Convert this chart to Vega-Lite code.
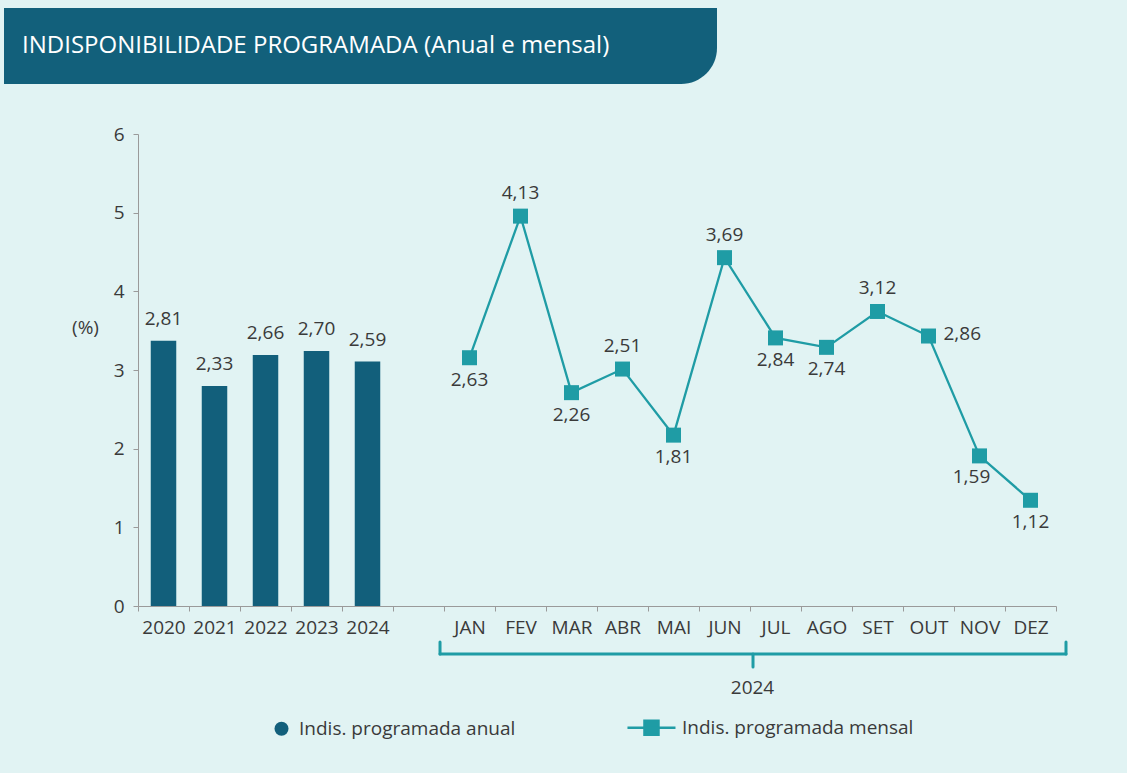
{
  "$schema": "https://vega.github.io/schema/vega-lite/v6.json",
  "background": "#e1f3f3",
  "padding": {"left": 4, "top": 8, "right": 59, "bottom": 33},
  "spacing": 41,
  "config": {
    "view": {"stroke": null},
    "font": "Open Sans",
    "locale": {"number": {"decimal": ",", "thousands": ".", "grouping": [3], "currency": ["", ""]}},
    "axis": {
      "labelFont": "Open Sans", "titleFont": "Open Sans",
      "labelColor": "#3a3a3a", "titleColor": "#3a3a3a",
      "labelFontSize": 19, "titleFontSize": 19, "titleFontWeight": "normal",
      "domainColor": "#9a9a9a", "tickColor": "#9a9a9a", "grid": false
    },
    "legend": {
      "orient": "none", "legendX": 268, "legendY": 710,
      "direction": "horizontal", "title": null,
      "labelFont": "Open Sans", "labelFontSize": 19, "labelColor": "#3a3a3a",
      "symbolSize": 196, "labelOffset": 8, "columnPadding": 106, "labelLimit": 400, "padding": 0,
      "symbolStrokeWidth": 2.5
    }
  },
  "datasets": {
    "cabecalho": [{"titulo": "INDISPONIBILIDADE PROGRAMADA (Anual e mensal)"}],
    "anual": [
      {"periodo": "2020", "valor": 2.81, "serie": "Indis. programada anual"},
      {"periodo": "2021", "valor": 2.33, "serie": "Indis. programada anual"},
      {"periodo": "2022", "valor": 2.66, "serie": "Indis. programada anual"},
      {"periodo": "2023", "valor": 2.70, "serie": "Indis. programada anual"},
      {"periodo": "2024", "valor": 2.59, "serie": "Indis. programada anual"}
    ],
    "mensal": [
      {"periodo": "JAN", "valor": 2.63, "serie": "Indis. programada mensal"},
      {"periodo": "FEV", "valor": 4.13, "serie": "Indis. programada mensal"},
      {"periodo": "MAR", "valor": 2.26, "serie": "Indis. programada mensal"},
      {"periodo": "ABR", "valor": 2.51, "serie": "Indis. programada mensal"},
      {"periodo": "MAI", "valor": 1.81, "serie": "Indis. programada mensal"},
      {"periodo": "JUN", "valor": 3.69, "serie": "Indis. programada mensal"},
      {"periodo": "JUL", "valor": 2.84, "serie": "Indis. programada mensal"},
      {"periodo": "AGO", "valor": 2.74, "serie": "Indis. programada mensal"},
      {"periodo": "SET", "valor": 3.12, "serie": "Indis. programada mensal"},
      {"periodo": "OUT", "valor": 2.86, "serie": "Indis. programada mensal"},
      {"periodo": "NOV", "valor": 1.59, "serie": "Indis. programada mensal"},
      {"periodo": "DEZ", "valor": 1.12, "serie": "Indis. programada mensal"}
    ],
    "chave": [{"inicio": "JAN", "fim": "DEZ", "meio": "JUL"}]
  },
  "vconcat": [
    {
      "width": 713,
      "height": 76,
      "data": {"name": "cabecalho"},
      "layer": [
        {
          "mark": {"type": "rect", "color": "#12607b", "cornerRadiusBottomRight": 36},
          "encoding": {
            "x": {"datum": 0, "type": "quantitative", "scale": {"domain": [0, 1]}, "axis": null},
            "x2": {"datum": 1},
            "y": {"datum": 0, "type": "quantitative", "scale": {"domain": [0, 1]}, "axis": null},
            "y2": {"datum": 1}
          }
        },
        {
          "mark": {"type": "text", "align": "left", "baseline": "middle", "dx": 18, "fontSize": 24, "color": "#ffffff", "font": "Open Sans"},
          "encoding": {
            "x": {"datum": 0, "type": "quantitative"},
            "y": {"datum": 0.5, "type": "quantitative"},
            "text": {"field": "titulo"}
          }
        }
      ]
    },
    {
      "spacing": 0,
      "hconcat": [
        {
          "width": 1,
          "height": 1,
          "data": {"values": []},
          "mark": "point"
        },
        {
          "width": 918,
          "height": 472,
          "encoding": {
            "x": {
              "field": "periodo", "type": "nominal",
              "scale": {"domain": ["2020", "2021", "2022", "2023", "2024", " ", "JAN", "FEV", "MAR", "ABR", "MAI", "JUN", "JUL", "AGO", "SET", "OUT", "NOV", "DEZ"], "paddingInner": 0, "paddingOuter": 0},
              "axis": {"title": "2024", "titleX": 614, "titleY": 81, "titleAlign": "center", "titleBaseline": "middle", "labelAngle": 0, "tickBand": "extent", "tickSize": 5, "labelPadding": 7}
            }
          },
          "layer": [
            {
              "data": {"name": "anual"},
              "mark": {"type": "bar", "width": {"band": 0.5}},
              "encoding": {
                "y": {
                  "field": "valor", "type": "quantitative",
                  "scale": {"domain": [0, 5], "nice": false},
                  "axis": {"values": [0, 0.833333, 1.666667, 2.5, 3.333333, 4.166667, 5], "labelExpr": "format(datum.value * 1.2, '.0f')", "title": "(%)", "titleAngle": 0, "titleX": -53, "titleY": 193, "titleAlign": "center", "titleBaseline": "middle", "tickSize": 5, "labelPadding": 9, "minExtent": 133}
                },
                "color": {
                  "field": "serie", "type": "nominal",
                  "scale": {"domain": ["Indis. programada anual", "Indis. programada mensal"], "range": ["#125f7b", "#1f9ca5"]},
                  "legend": {
                    "encode": {
                      "symbols": {
                        "update": {
                          "shape": {"signal": "datum.value === 'Indis. programada anual' ? 'circle' : 'M-5.29,0L1.57,0M-2.86,-1L-0.86,-1L-0.86,1L-2.86,1Z'"},
                          "fill": {"signal": "datum.value === 'Indis. programada anual' ? '#125f7b' : '#1f9ca5'"},
                          "stroke": {"signal": "datum.value === 'Indis. programada anual' ? '#125f7b' : '#1f9ca5'"},
                          "strokeWidth": {"signal": "datum.value === 'Indis. programada anual' ? 0 : 2.5"},
                          "size": {"value": 196},
                          "opacity": {"value": 1}
                        }
                      }
                    }
                  }
                }
              }
            },
            {
              "data": {"name": "anual"},
              "mark": {"type": "text", "baseline": "middle", "dy": -22, "fontSize": 19, "color": "#3a3a3a"},
              "encoding": {
                "y": {"field": "valor", "type": "quantitative"},
                "text": {"field": "valor", "type": "quantitative", "format": ".2f"}
              }
            },
            {
              "data": {"name": "mensal"},
              "mark": {"type": "line", "strokeWidth": 2.3},
              "encoding": {
                "y": {"field": "valor", "type": "quantitative"},
                "color": {"field": "serie", "type": "nominal"}
              }
            },
            {
              "data": {"name": "mensal"},
              "mark": {"type": "point", "shape": "square", "filled": true, "size": 225, "opacity": 1, "color": "#1f9ca5"},
              "encoding": {"y": {"field": "valor", "type": "quantitative"}}
            },
            {
              "data": {"name": "mensal"},
              "transform": [{"filter": {"field": "periodo", "oneOf": ["FEV", "ABR", "JUN", "SET"]}}],
              "mark": {"type": "text", "baseline": "middle", "dy": -23, "fontSize": 19, "color": "#3a3a3a"},
              "encoding": {
                "y": {"field": "valor", "type": "quantitative"},
                "text": {"field": "valor", "type": "quantitative", "format": ".2f"}
              }
            },
            {
              "data": {"name": "mensal"},
              "transform": [{"filter": {"field": "periodo", "oneOf": ["JAN", "MAR", "MAI", "JUL", "AGO", "DEZ"]}}],
              "mark": {"type": "text", "baseline": "middle", "dy": 22, "fontSize": 19, "color": "#3a3a3a"},
              "encoding": {
                "y": {"field": "valor", "type": "quantitative"},
                "text": {"field": "valor", "type": "quantitative", "format": ".2f"}
              }
            },
            {
              "data": {"name": "mensal"},
              "transform": [{"filter": {"field": "periodo", "equal": "OUT"}}],
              "mark": {"type": "text", "baseline": "middle", "align": "left", "dx": 15, "dy": -2, "fontSize": 19, "color": "#3a3a3a"},
              "encoding": {
                "y": {"field": "valor", "type": "quantitative"},
                "text": {"field": "valor", "type": "quantitative", "format": ".2f"}
              }
            },
            {
              "data": {"name": "mensal"},
              "transform": [{"filter": {"field": "periodo", "equal": "NOV"}}],
              "mark": {"type": "text", "baseline": "middle", "dx": -8, "dy": 21, "fontSize": 19, "color": "#3a3a3a"},
              "encoding": {
                "y": {"field": "valor", "type": "quantitative"},
                "text": {"field": "valor", "type": "quantitative", "format": ".2f"}
              }
            },
            {
              "data": {"name": "chave"},
              "mark": {"type": "rule", "color": "#1f9ca5", "strokeWidth": 3, "strokeCap": "round"},
              "encoding": {
                "x": {"field": "inicio", "type": "nominal", "bandPosition": -0.078},
                "x2": {"field": "fim", "bandPosition": 1.196},
                "y": {"datum": -0.508}
              }
            },
            {
              "data": {"name": "chave"},
              "mark": {"type": "rule", "color": "#1f9ca5", "strokeWidth": 3, "strokeCap": "round"},
              "encoding": {
                "x": {"field": "inicio", "type": "nominal", "bandPosition": -0.078},
                "y": {"datum": -0.508},
                "y2": {"datum": -0.381}
              }
            },
            {
              "data": {"name": "chave"},
              "mark": {"type": "rule", "color": "#1f9ca5", "strokeWidth": 3, "strokeCap": "round"},
              "encoding": {
                "x": {"field": "fim", "type": "nominal", "bandPosition": 1.196},
                "y": {"datum": -0.508},
                "y2": {"datum": -0.381}
              }
            },
            {
              "data": {"name": "chave"},
              "mark": {"type": "rule", "color": "#1f9ca5", "strokeWidth": 3, "strokeCap": "round"},
              "encoding": {
                "x": {"field": "meio", "type": "nominal", "bandPosition": 0.059},
                "y": {"datum": -0.508},
                "y2": {"datum": -0.646}
              }
            }
          ]
        }
      ]
    }
  ]
}
